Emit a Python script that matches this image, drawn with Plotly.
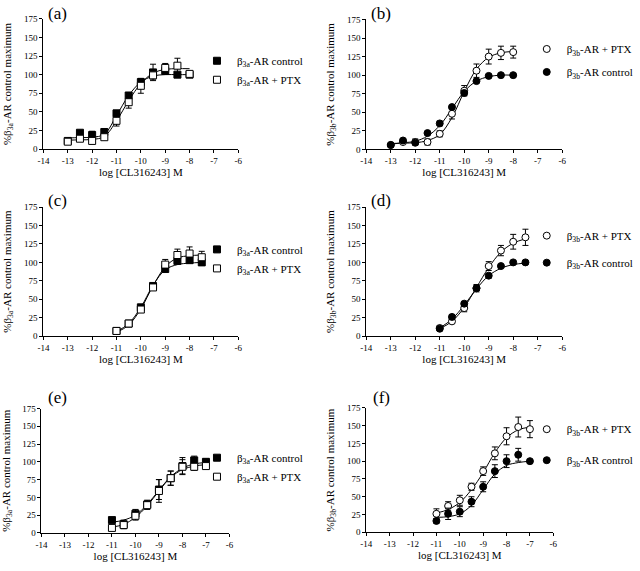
import plotly.graph_objects as go

# ---------------- data ----------------
x_ab = [-13, -12.5, -12, -11.5, -11, -10.5, -10, -9.5, -9, -8.5, -8]
x_cd = [-11, -10.5, -10, -9.5, -9, -8.5, -8, -7.5]
x_ef = [-11, -10.5, -10, -9.5, -9, -8.5, -8, -7.5, -7]

x_tickvals = [-14, -13, -12, -11, -10, -9, -8, -7, -6]
x_ticklabels = ["-14", "-13", "-12", "-11", "-10", "-9", "-8", "-7", "-6"]
y_tickvals = [0, 25, 50, 75, 100, 125, 150, 175]
y_ticklabels = ["0", "25", "50", "75", "100", "125", "150", "175"]

# (a) beta3a-AR
a_ctrl = [11, 22, 19, 23, 48, 72, 90, 103, 105, 100, 100]
a_ctrl_err = [2, 3, 5, 2, 4, 4, 4, 11, 4, 3, 2]
a_ptx = [10, 14, 11, 16, 38, 63, 85, 99, 109, 112, 101]
a_ptx_err = [2, 3, 3, 3, 7, 8, 10, 5, 6, 10, 3]
a_ctrl_fit = [15, 15.5, 16, 20, 45, 72, 90, 98, 100, 100, 100]
a_ptx_fit = [12, 12.5, 13, 17, 38, 65, 88, 102, 107, 108, 108]

# (b) beta3b-AR
b_ptx = [6, 10, 10, 10, 21, 48, 79, 106, 125, 130, 131]
b_ptx_err = [2, 2, 4, 4, 4, 7, 7, 9, 10, 9, 8]
b_ctrl = [6, 12, 9, 22, 35, 57, 76, 92, 99, 100, 100]
b_ctrl_err = [1, 2, 2, 2, 3, 2, 3, 2, 2, 2, 1]
b_ptx_fit = [8, 8.5, 9, 12, 20, 43, 78, 108, 124, 130, 132]
b_ctrl_fit = [7, 9, 11, 18, 32, 55, 78, 92, 98, 100, 100]

# (c) beta3a-AR
c_ctrl = [7, 17, 39, 68, 91, 102, 103, 100]
c_ctrl_err = [2, 2, 2, 3, 3, 3, 3, 2]
c_ptx = [7, 17, 36, 66, 97, 110, 112, 107]
c_ptx_err = [2, 2, 3, 4, 7, 8, 9, 8]
c_ctrl_fit = [6, 17, 39, 69, 90, 97, 99, 100]
c_ptx_fit = [5, 15, 37, 68, 94, 106, 109, 110]

# (d) beta3b-AR
d_ptx = [11, 20, 38, 65, 95, 116, 128, 134]
d_ptx_err = [3, 3, 5, 5, 6, 7, 10, 11]
d_ctrl = [10, 26, 44, 65, 82, 95, 100, 100]
d_ctrl_err = [2, 3, 3, 3, 3, 2, 2, 2]
d_ptx_fit = [10, 20, 39, 66, 93, 114, 126, 132]
d_ctrl_fit = [11, 23, 42, 64, 82, 92, 97, 99]

# (e) beta3a-AR
e_ctrl = [18, 12, 27, 40, 61, 77, 94, 102, 100]
e_ctrl_err = [2, 6, 6, 6, 14, 10, 12, 6, 4]
e_ptx = [7, 11, 24, 39, 59, 77, 93, 93, 94]
e_ptx_err = [2, 5, 6, 6, 16, 10, 10, 5, 4]
e_ctrl_fit = [15, 18, 25, 40, 60, 79, 91, 97, 99]
e_ptx_fit = [8, 12, 22, 38, 59, 78, 89, 94, 96]

# (f) beta3b-AR
f_ptx = [26, 37, 45, 64, 86, 111, 135, 148, 145]
f_ptx_err = [7, 6, 7, 5, 6, 9, 12, 14, 12]
f_ctrl = [16, 26, 29, 43, 64, 86, 100, 109, 100]
f_ctrl_err = [3, 8, 7, 7, 7, 9, 9, 9, 2]
f_ptx_fit = [27, 32, 42, 60, 84, 112, 133, 144, 148]
f_ctrl_fit = [21, 22, 26, 38, 60, 82, 94, 98, 100]

panel_labels = ["(a)", "(b)", "(c)", "(d)", "(e)", "(f)"]
name_a_ctrl = "β<sub>3a</sub>-AR control"
name_a_ptx = "β<sub>3a</sub>-AR + PTX"
name_b_ctrl = "β<sub>3b</sub>-AR control"
name_b_ptx = "β<sub>3b</sub>-AR + PTX"
ytitle_a = "%β<sub>3a</sub>-AR control maximum"
ytitle_b = "%β<sub>3b</sub>-AR control maximum"
xtitle = "log [CL316243] M"

# ---------------- layout geometry ----------------
W, H = 640, 571
FONT = "Liberation Serif, Times New Roman, serif"

def dx(px):
    return px / W

def dy(py):
    return 1 - py / H

# (x_left, x_right, y_bottom_px, y_top_px) for each panel
geom = [
    (38, 236, 146.7, 14.0),
    (366, 565, 147.0, 14.7),
    (38, 236, 337.0, 205.7),
    (366, 565, 337.0, 205.7),
    (36, 227, 537.3, 410.7),
    (366, 556, 536.7, 410.0),
]

# legend anchor (left px, top px, gap between items px)
legend_pos = [
    (194, 42, 0),
    (529, 30, 4),
    (194, 234, 0),
    (529, 220, 8),
    (194, 446, 0),
    (529, 417, 12),
]
label_pos = [(52, 9), (381, 9), (52, 199), (381, 199), (52, 400), (381, 400)]

panels = [
    (x_ab, [(name_a_ctrl, a_ctrl, a_ctrl_err, a_ctrl_fit, "square", "black"),
            (name_a_ptx, a_ptx, a_ptx_err, a_ptx_fit, "square", "white")], ytitle_a),
    (x_ab, [(name_b_ptx, b_ptx, b_ptx_err, b_ptx_fit, "circle", "white"),
            (name_b_ctrl, b_ctrl, b_ctrl_err, b_ctrl_fit, "circle", "black")], ytitle_b),
    (x_cd, [(name_a_ctrl, c_ctrl, c_ctrl_err, c_ctrl_fit, "square", "black"),
            (name_a_ptx, c_ptx, c_ptx_err, c_ptx_fit, "square", "white")], ytitle_a),
    (x_cd, [(name_b_ptx, d_ptx, d_ptx_err, d_ptx_fit, "circle", "white"),
            (name_b_ctrl, d_ctrl, d_ctrl_err, d_ctrl_fit, "circle", "black")], ytitle_b),
    (x_ef, [(name_a_ctrl, e_ctrl, e_ctrl_err, e_ctrl_fit, "square", "black"),
            (name_a_ptx, e_ptx, e_ptx_err, e_ptx_fit, "square", "white")], ytitle_a),
    (x_ef, [(name_b_ptx, f_ptx, f_ptx_err, f_ptx_fit, "circle", "white"),
            (name_b_ctrl, f_ctrl, f_ctrl_err, f_ctrl_fit, "circle", "black")], ytitle_b),
]

fig = go.Figure()
layout = dict(
    width=W, height=H,
    margin=dict(l=0, r=0, t=0, b=0),
    paper_bgcolor="white", plot_bgcolor="white",
    font=dict(family=FONT, color="black", size=11),
    annotations=[],
)

for i, (xs, series, ytitle) in enumerate(panels):
    n = i + 1
    xa = "x" if n == 1 else f"x{n}"
    ya = "y" if n == 1 else f"y{n}"
    lg = "legend" if n == 1 else f"legend{n}"
    xl, xr, yb, yt = geom[i]

    # fitted curves first (underneath)
    for name, ys, err, fit, sym, fill in series:
        fig.add_trace(go.Scatter(
            x=xs, y=fit, mode="lines",
            line=dict(color="black", width=1, shape="spline", smoothing=1.0),
            showlegend=False, hoverinfo="skip", xaxis=xa, yaxis=ya))
    for k, (name, ys, err, fit, sym, fill) in enumerate(series):
        fig.add_trace(go.Scatter(
            x=xs, y=ys, mode="markers", name=name,
            marker=dict(symbol=sym, size=7, color=fill, line=dict(color="black", width=1)),
            error_y=dict(type="data", array=err, visible=True, color="black", thickness=1, width=3),
            xaxis=xa, yaxis=ya, legend=lg, legendgroup=f"g{n}_{k}"))

    xkey = "xaxis" if n == 1 else f"xaxis{n}"
    ykey = "yaxis" if n == 1 else f"yaxis{n}"
    layout[xkey] = dict(
        domain=[dx(xl), dx(xr)], anchor=ya, range=[-14, -6],
        tickmode="array", tickvals=x_tickvals, ticktext=x_ticklabels,
        ticks="outside", ticklen=3, tickwidth=1, tickcolor="black",
        showline=True, linecolor="black", linewidth=1, showgrid=False, zeroline=False,
        tickfont=dict(size=9, family=FONT),
        title=dict(text=xtitle, font=dict(size=11, family=FONT), standoff=2),
    )
    layout[ykey] = dict(
        domain=[dy(yb), dy(yt)], anchor=xa, range=[0, 175],
        tickmode="array", tickvals=y_tickvals, ticktext=y_ticklabels,
        ticks="outside", ticklen=3, tickwidth=1, tickcolor="black",
        showline=True, linecolor="black", linewidth=1, showgrid=False, zeroline=False,
        tickfont=dict(size=9, family=FONT),
        title=dict(text=ytitle, font=dict(size=11, family=FONT), standoff=10),
    )
    lx, ly, gap = legend_pos[i]
    layout[lg] = dict(
        x=dx(lx), y=dy(ly), xanchor="left", yanchor="top",
        bgcolor="rgba(0,0,0,0)", font=dict(size=11, family=FONT),
        tracegroupgap=gap, traceorder="grouped", itemwidth=30,
    )
    # panel label
    lab_x, lab_y = label_pos[i]
    layout["annotations"].append(dict(
        text=panel_labels[i], x=dx(lab_x), y=dy(lab_y), xref="paper", yref="paper",
        showarrow=False, font=dict(size=17, family=FONT), xanchor="center", yanchor="middle"))

fig.update_layout(**layout)
fig.write_html("out.html", config={"displayModeBar": False},
               post_script="document.body.style.margin='0';")
